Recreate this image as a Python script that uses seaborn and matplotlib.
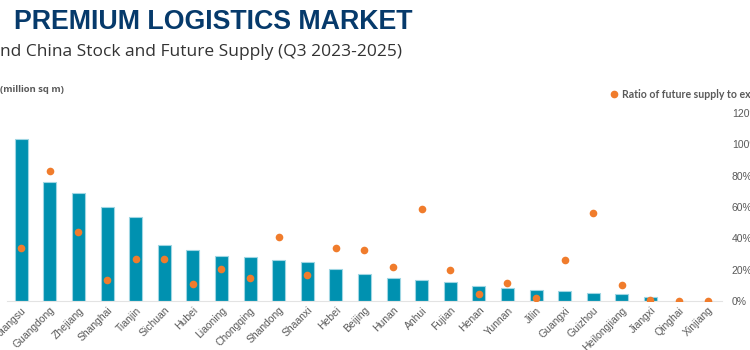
import pandas as pd
import seaborn as sns
import matplotlib.pyplot as plt
from matplotlib.lines import Line2D
from matplotlib.ticker import PercentFormatter

provinces = ["Jiangsu", "Guangdong", "Zhejiang", "Shanghai", "Tianjin", "Sichuan",
             "Hubei", "Liaoning", "Chongqing", "Shandong", "Shaanxi", "Hebei",
             "Beijing", "Hunan", "Anhui", "Fujian", "Henan", "Yunnan", "Jilin",
             "Guangxi", "Guizhou", "Heilongjiang", "Jiangxi", "Qinghai", "Xinjiang"]

# existing stock, million sq m
stock = [16.2, 11.9, 10.8, 9.4, 8.4, 5.6, 5.1, 4.5, 4.4, 4.1, 3.9, 3.2, 2.7,
         2.3, 2.1, 1.9, 1.5, 1.3, 1.1, 1.0, 0.8, 0.7, 0.4, 0.04, 0.04]

# ratio of future supply to existing stock
ratio = [0.34, 0.83, 0.44, 0.136, 0.27, 0.27, 0.11, 0.204, 0.147, 0.406, 0.166,
         0.338, 0.323, 0.219, 0.587, 0.198, 0.045, 0.115, 0.017, 0.26, 0.56,
         0.104, 0.005, 0.0, 0.0]

df = pd.DataFrame({"province": provinces, "stock": stock, "ratio": ratio})

BAR = "#0091b0"
DOT = "#f07c2c"
GREY = "#595959"

sns.set_style("white")
plt.rcParams["font.family"] = ["Liberation Sans", "DejaVu Sans"]

fig = plt.figure(figsize=(7.5, 3.5), dpi=100)
ax = fig.add_axes([7/750, 49/350, 715/750, 188/350])

sns.barplot(data=df, x="province", y="stock", order=provinces, color=BAR,
            width=0.45, edgecolor="#9fd6e3", linewidth=0.8, saturation=1, ax=ax)
ax.set_ylim(0, 18.8)
ax.set_xlim(-0.47, 25.4)
ax.set_yticks([])
ax.set_xlabel("")
ax.set_ylabel("")

ax2 = ax.twinx()
sns.stripplot(data=df, x="province", y="ratio", order=provinces, color=DOT,
              jitter=False, size=5.5, linewidth=0, ax=ax2)
ax2.set_ylim(0, 1.2)
ax2.set_yticks([0, 0.2, 0.4, 0.6, 0.8, 1.0, 1.2])
ax2.yaxis.set_major_formatter(PercentFormatter(1.0, decimals=0))
ax2.set_ylabel("")
ax2.tick_params(axis="y", length=0, pad=7, labelsize=7.5, labelcolor=GREY)

for a in (ax, ax2):
    for s in ["top", "right", "left"]:
        a.spines[s].set_visible(False)
ax.spines["bottom"].set_color("#e3e3e3")
ax2.spines["bottom"].set_visible(False)

ax.tick_params(axis="x", length=0, pad=3, labelsize=7.5, labelcolor=GREY)
plt.setp(ax.get_xticklabels(), rotation=45, ha="right", rotation_mode="anchor")

fig.text(14/750, 1 - 22/350, "PREMIUM LOGISTICS MARKET", fontsize=19.3,
         fontweight="bold", color="#063a6b", va="center",
         family=["Liberation Sans", "DejaVu Sans"])
fig.text(0, 1 - 52/350, "nd China Stock and Future Supply (Q3 2023-2025)",
         fontsize=12.5, color="#333333", va="center",
         family=["Open Sans", "DejaVu Sans"])
fig.text(0, 1 - 90/350, "(million sq m)", fontsize=6.8, fontweight="bold",
         color=GREY, va="center", family=["Open Sans", "DejaVu Sans"])

handle = Line2D([], [], marker="o", linestyle="none", color=DOT, markersize=4.5)
fig.legend([handle], ["Ratio of future supply to exi"], loc="center left",
           bbox_to_anchor=(598/750, 1 - 94/350), frameon=False, handletextpad=0.2,
           handlelength=1.2,
           prop={"family": ["Lato", "DejaVu Sans"], "weight": "bold", "size": 7.6},
           labelcolor=GREY)

fig.savefig("out.png", dpi=100)
